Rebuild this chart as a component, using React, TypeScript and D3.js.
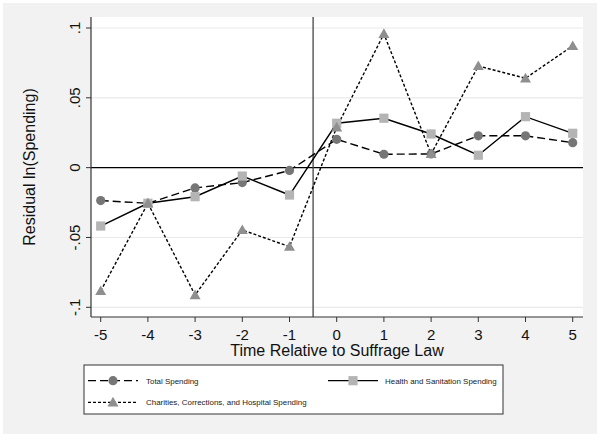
import React from "react";
import * as d3 from "d3";

const years = [-5, -4, -3, -2, -1, 0, 1, 2, 3, 4, 5];
const totalSpending = [-0.0236, -0.0255, -0.0145, -0.0107, -0.002, 0.0203, 0.0096, 0.0098, 0.0228, 0.0228, 0.0179];
const healthSpending = [-0.0418, -0.0255, -0.0208, -0.006, -0.0196, 0.0318, 0.0354, 0.0241, 0.0089, 0.0365, 0.0246];
const charitiesSpending = [-0.0883, -0.0255, -0.0912, -0.0446, -0.0566, 0.0289, 0.0958, 0.0098, 0.0728, 0.064, 0.0872];
const yTicks = [-0.1, -0.05, 0, 0.05, 0.1];
const yTickLabels = ["-.1", "-.05", "0", ".05", ".1"];
const xTicks = years;
const legendLabels = ["Total Spending", "Health and Sanitation Spending", "Charities, Corrections, and Hospital Spending"];

const W = 600, H = 436;
const plot = { left: 91, right: 583, top: 17, bottom: 317 };
const FONT = "Liberation Sans, Arial, sans-serif";

export default function App() {
  const x = d3.scaleLinear().domain([-5, 5]).range([100.7, 572.7]);
  const y = d3.scaleLinear().domain([-0.1, 0.1]).range([307.3, 28]);
  const line = (vals: number[]) =>
    d3.line<number>().x((_, i) => x(years[i])).y((d) => y(d))(vals) || "";

  const circleFill = "#767676";
  const squareFill = "#b4b4b4";
  const triFill = "#8f8f8f";
  const triPath = (cx: number, cy: number, s = 5.5) =>
    `M${cx},${cy - s}L${cx + s * 1.0},${cy + s * 0.75}L${cx - s * 1.0},${cy + s * 0.75}Z`;

  const series = [
    { vals: totalSpending, dash: "8,4", kind: "circle" },
    { vals: healthSpending, dash: "", kind: "square" },
    { vals: charitiesSpending, dash: "3,2", kind: "tri" },
  ];

  const marker = (kind: string, cx: number, cy: number, key?: any) => {
    if (kind === "circle") return <circle key={key} cx={cx} cy={cy} r={4.6} fill={circleFill} />;
    if (kind === "square") return <rect key={key} x={cx - 4.6} y={cy - 4.6} width={9.2} height={9.2} fill={squareFill} />;
    return <path key={key} d={triPath(cx, cy)} fill={triFill} />;
  };

  return (
    <svg width={W} height={H} style={{ position: "absolute", left: 0, top: 0, display: "block" }} fontFamily={FONT}>
      <rect x={0} y={0} width={W} height={H} fill="#ffffff" />
      <rect x={3} y={3} width={594} height={431} fill="#f2f2f2" />
      <rect x={plot.left} y={plot.top} width={plot.right - plot.left} height={plot.bottom - plot.top} fill="#ffffff" />
      {/* grid */}
      {yTicks.filter((t) => t !== 0).map((t) => (
        <line key={t} x1={plot.left} x2={plot.right} y1={y(t)} y2={y(t)} stroke="#eaeaea" strokeWidth={1.2} />
      ))}
      {/* zero line */}
      <line x1={plot.left} x2={plot.right} y1={y(0)} y2={y(0)} stroke="#000" strokeWidth={1.2} />
      {/* vertical line */}
      <line x1={x(-0.5)} x2={x(-0.5)} y1={plot.top} y2={plot.bottom} stroke="#444" strokeWidth={1.3} />
      {/* series lines */}
      {series.map((s, i) => (
        <path key={i} d={line(s.vals)} fill="none" stroke="#000" strokeWidth={1.4} strokeDasharray={s.dash || undefined} />
      ))}
      {series.map((s, i) => (
        <g key={"m" + i}>{s.vals.map((v, j) => marker(s.kind, x(years[j]), y(v), j))}</g>
      ))}
      {/* axes */}
      <line x1={plot.left} x2={plot.left} y1={plot.top} y2={plot.bottom} stroke="#333" strokeWidth={1.2} />
      <line x1={plot.left} x2={plot.right} y1={plot.bottom} y2={plot.bottom} stroke="#333" strokeWidth={1.2} />
      {yTicks.map((t, i) => (
        <g key={"yt" + i}>
          <line x1={plot.left - 5} x2={plot.left} y1={y(t)} y2={y(t)} stroke="#333" strokeWidth={1} />
          <text transform={`translate(80,${y(t)}) rotate(-90)`} textAnchor="middle" fontSize={15} fill="#111">
            {yTickLabels[i]}
          </text>
        </g>
      ))}
      {xTicks.map((t) => (
        <g key={"xt" + t}>
          <line x1={x(t)} x2={x(t)} y1={plot.bottom} y2={plot.bottom + 5} stroke="#333" strokeWidth={1} />
          <text x={x(t)} y={340} textAnchor="middle" fontSize={15} fill="#111">
            {t}
          </text>
        </g>
      ))}
      <text x={(plot.left + plot.right) / 2} y={355.5} textAnchor="middle" fontSize={16} fill="#111">
        Time Relative to Suffrage Law
      </text>
      <text transform={`translate(34.5,${(plot.top + plot.bottom) / 2}) rotate(-90)`} textAnchor="middle" fontSize={16} fill="#111">
        Residual ln(Spending)
      </text>
      {/* legend */}
      <rect x={84} y={365} width={419} height={49} fill="#ffffff" stroke="#333" strokeWidth={1} />
      {[
        { kind: "circle", dash: "8,4", lx: 88, ly: 380.7, tx: 146 },
        { kind: "square", dash: "", lx: 328, ly: 380.7, tx: 385 },
        { kind: "tri", dash: "3,2", lx: 88, ly: 402.3, tx: 146 },
      ].map((e, i) => (
        <g key={"lg" + i}>
          <line x1={e.lx} x2={e.lx + 50} y1={e.ly} y2={e.ly} stroke="#000" strokeWidth={1.3} strokeDasharray={e.dash || undefined} />
          {marker(e.kind, e.lx + 25, e.ly)}
          <text x={e.tx} y={e.ly + 3} fontSize={7.95} fill="#222">
            {legendLabels[i]}
          </text>
        </g>
      ))}
    </svg>
  );
}
